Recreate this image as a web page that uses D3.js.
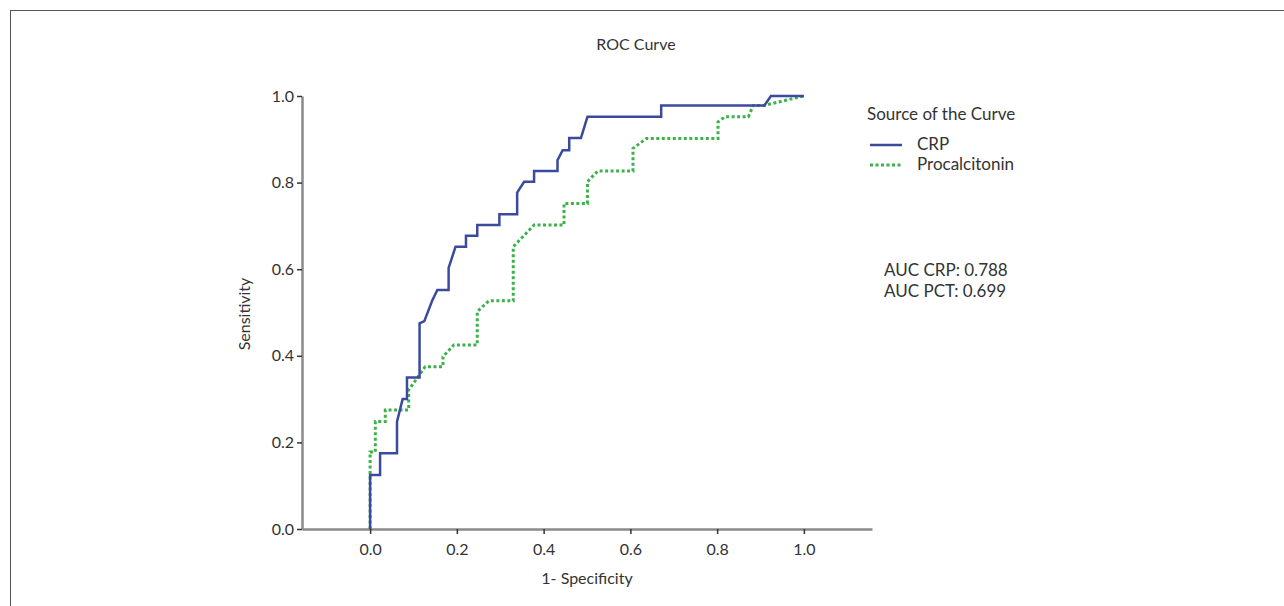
<!DOCTYPE html>
<html>
<head>
<script src="https://d3js.org/d3.v7.min.js"></script>
<style>
  body { margin: 0; background: #fff; }
  text { font-family: Lato, "Open Sans", sans-serif; fill: #333; }
</style>
</head>
<body>
<svg id="chart" width="1284" height="606"></svg>
<script>
// ROC points [1-specificity, sensitivity]
var crpX = [0,0,0.023,0.023,0.062,0.062,0.075,0.085,0.085,0.114,0.114,0.125,0.143,0.155,0.181,0.181,0.197,0.221,0.221,0.247,0.247,0.298,0.298,0.339,0.339,0.355,0.378,0.378,0.432,0.432,0.444,0.459,0.459,0.486,0.501,0.671,0.671,0.909,0.924,1.0];
var crpY = [0,0.125,0.125,0.175,0.175,0.248,0.3,0.3,0.35,0.35,0.475,0.48,0.527,0.552,0.552,0.603,0.652,0.652,0.677,0.677,0.702,0.702,0.727,0.727,0.777,0.802,0.802,0.827,0.827,0.852,0.875,0.875,0.903,0.903,0.952,0.952,0.978,0.978,1.0,1.0];
var pctX = [0,0,0.012,0.012,0.035,0.035,0.089,0.089,0.127,0.168,0.168,0.193,0.247,0.247,0.274,0.33,0.33,0.378,0.447,0.447,0.501,0.501,0.525,0.606,0.606,0.637,0.802,0.802,0.818,0.872,0.883,0.907,1.0];
var pctY = [0,0.178,0.178,0.248,0.248,0.275,0.275,0.321,0.375,0.375,0.398,0.425,0.425,0.502,0.527,0.527,0.652,0.702,0.702,0.752,0.752,0.802,0.827,0.827,0.879,0.902,0.902,0.94,0.952,0.952,0.978,0.978,1.0];
var ticks = [0, 0.2, 0.4, 0.6, 0.8, 1.0];
var aucLabels = ["AUC CRP: 0.788", "AUC PCT: 0.699"];

var svg = d3.select("#chart");
svg.append("rect").attr("x", 10.5).attr("y", 10.5).attr("width", 1290).attr("height", 620)
  .attr("fill", "none").attr("stroke", "#555").attr("stroke-width", 1);

var x = d3.scaleLinear([-0.157, 1.157], [302, 872]);
var y = d3.scaleLinear([0, 1], [529, 96]);

var gx = svg.append("g").attr("transform", "translate(0,529)")
  .call(d3.axisBottom(x).tickValues(ticks).tickFormat(d3.format(".1f")).tickSize(5).tickSizeOuter(0));
var gy = svg.append("g").attr("transform", "translate(302,0)")
  .call(d3.axisLeft(y).tickValues(ticks).tickFormat(d3.format(".1f")).tickSize(5).tickSizeOuter(0));
[gx, gy].forEach(function(g) {
  g.select(".domain").attr("stroke", "#8a8a8a").attr("stroke-width", 2.5);
  g.selectAll(".tick line").attr("stroke", "#333").attr("stroke-width", 1.5);
  g.selectAll(".tick text").style("font-size", "16px").attr("fill", "#333")
    .style("font-family", "Lato, 'Open Sans', sans-serif");
});
gx.selectAll(".tick text").attr("dy", "1.1em");
gy.selectAll(".tick text").attr("x", -8);

var line = d3.line().x(function(d) { return x(d[0]); }).y(function(d) { return y(d[1]); });
svg.append("path").datum(d3.zip(pctX, pctY)).attr("d", line).attr("fill", "none")
  .attr("stroke", "#3db24b").attr("stroke-width", 3).attr("stroke-dasharray", "3,2.5");
svg.append("path").datum(d3.zip(crpX, crpY)).attr("d", line).attr("fill", "none")
  .attr("stroke", "#3b4a9c").attr("stroke-width", 2.5);

svg.append("text").attr("x", 636).attr("y", 50).attr("text-anchor", "middle")
  .style("font-size", "16px").text("ROC Curve");
svg.append("text").attr("x", 587).attr("y", 584).attr("text-anchor", "middle")
  .style("font-size", "16px").text("1- Specificity");
svg.append("text").attr("transform", "translate(250,314) rotate(-90)").attr("text-anchor", "middle")
  .style("font-size", "16px").text("Sensitivity");

// legend
svg.append("text").attr("x", 867).attr("y", 120).style("font-size", "17px").text("Source of the Curve");
svg.append("line").attr("x1", 870).attr("x2", 902).attr("y1", 145).attr("y2", 145)
  .attr("stroke", "#3b4a9c").attr("stroke-width", 2.5);
svg.append("text").attr("x", 917).attr("y", 150).style("font-size", "17px").text("CRP");
svg.append("line").attr("x1", 870).attr("x2", 902).attr("y1", 165).attr("y2", 165)
  .attr("stroke", "#3db24b").attr("stroke-width", 3).attr("stroke-dasharray", "3,2.5");
svg.append("text").attr("x", 917).attr("y", 170).style("font-size", "17px").text("Procalcitonin");

svg.selectAll(".auc").data(aucLabels).join("text").attr("class", "auc")
  .attr("x", 884).attr("y", function(d, i) { return 276 + i * 21; })
  .style("font-size", "17px").text(function(d) { return d; });
</script>
</body>
</html>
